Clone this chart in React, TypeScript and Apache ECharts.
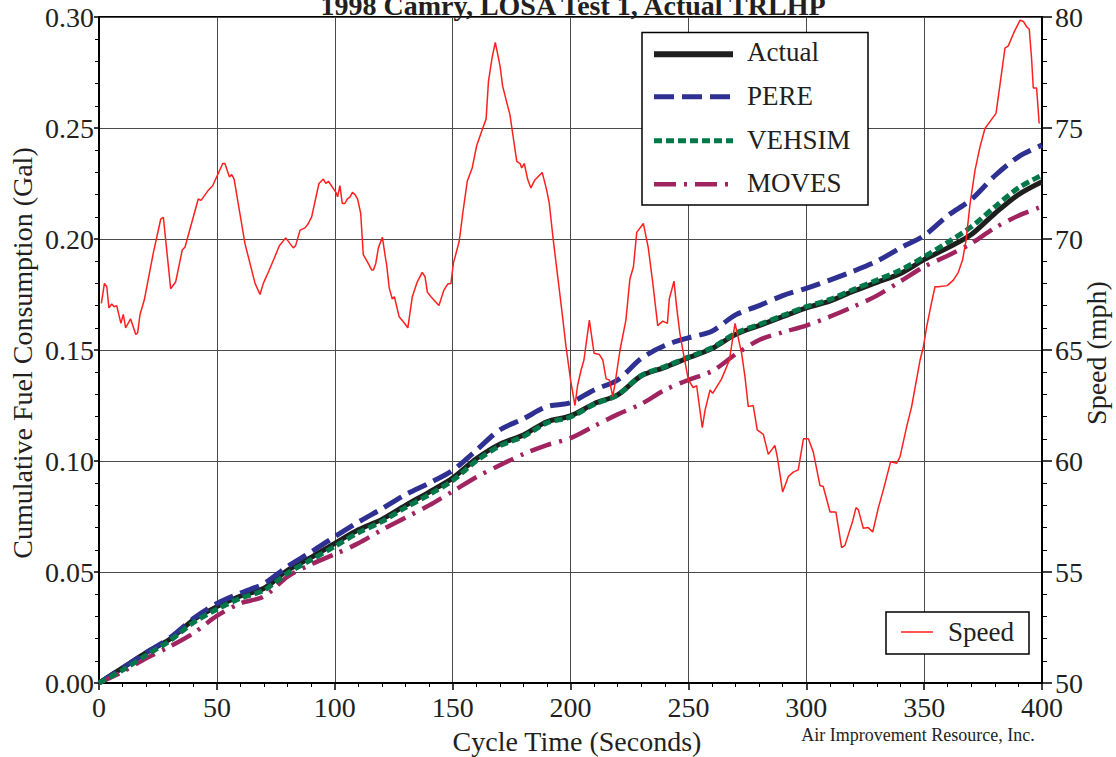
import React, { useEffect, useRef } from "react";
import * as echarts from "echarts";

// ---------- data ----------
const timeSteps = [0, 10, 20, 30, 40, 50, 60, 70, 80, 90, 100, 110, 120, 130, 140, 150, 160, 170, 180, 190, 200, 210, 220, 230, 240, 250, 260, 270, 280, 290, 300, 310, 320, 330, 340, 350, 360, 370, 380, 390, 400];

const actualFuel = [0, 0.0068, 0.0137, 0.0197, 0.0284, 0.0344, 0.0392, 0.0427, 0.0508, 0.0566, 0.0629, 0.069, 0.0737, 0.080, 0.086, 0.0923, 0.101, 0.1076, 0.1117, 0.1177, 0.1203, 0.1258, 0.1298, 0.1384, 0.1422, 0.1465, 0.1507, 0.157, 0.161, 0.165, 0.169, 0.172, 0.1765, 0.1805, 0.1845, 0.1907, 0.196, 0.202, 0.2115, 0.22, 0.2258];

const pereFuel = [0, 0.0068, 0.0137, 0.0203, 0.029, 0.0358, 0.0405, 0.0448, 0.0525, 0.059, 0.0659, 0.0725, 0.0785, 0.0848, 0.090, 0.0958, 0.1048, 0.114, 0.119, 0.1245, 0.1263, 0.132, 0.1365, 0.1462, 0.152, 0.1555, 0.1585, 0.1658, 0.170, 0.1745, 0.1778, 0.1815, 0.1855, 0.190, 0.196, 0.2015, 0.2105, 0.2178, 0.2285, 0.237, 0.2423];

const vehsimFuel = [0, 0.0058, 0.0125, 0.019, 0.0272, 0.0332, 0.0382, 0.0418, 0.0495, 0.0555, 0.0615, 0.0677, 0.0727, 0.079, 0.0848, 0.0912, 0.1, 0.1068, 0.111, 0.1172, 0.1198, 0.1255, 0.1297, 0.1385, 0.1425, 0.1468, 0.151, 0.1575, 0.1615, 0.1655, 0.1695, 0.1728, 0.1772, 0.1815, 0.186, 0.192, 0.1985, 0.2055, 0.2145, 0.223, 0.2288];

const movesFuel = [0, 0.005, 0.0111, 0.0164, 0.0224, 0.0302, 0.0359, 0.039, 0.0479, 0.0535, 0.058, 0.0629, 0.069, 0.0745, 0.080, 0.0863, 0.0927, 0.0981, 0.1031, 0.1072, 0.1103, 0.1157, 0.121, 0.1257, 0.132, 0.1365, 0.1405, 0.148, 0.1545, 0.158, 0.161, 0.165, 0.1695, 0.1745, 0.181, 0.1875, 0.1925, 0.198, 0.205, 0.2105, 0.2146];

const speedTime = [1, 2.3, 3.3, 4.2, 5.4, 6.4, 7.5, 9.3, 10.3, 11.3, 13.4, 15.6, 16.4, 17.4, 19.2, 23, 26.2, 27.3, 30.4, 32.5, 35.3, 36.5, 42.1, 43.3, 46.4, 48.2, 52.5, 53.4, 55.3, 56.3, 57.3, 61.9, 66.2, 68.3, 69.7, 71.8, 74.2, 76.5, 79.2, 82.4, 83.4, 85.3, 87.4, 88.8, 90.2, 93.3, 95.2, 96.2, 97.3, 100.5, 101.2, 102.2, 103.2, 104.3, 105.3, 106.5, 107.5, 108.6, 109.7, 111, 112.1, 114.2, 115.7, 116.4, 117.4, 118.5, 120.2, 121.3, 122, 123.1, 124.4, 125.3, 127.3, 129.1, 131, 132.9, 135, 137.1, 138.3, 139.3, 141.1, 142.5, 144.2, 146.3, 147.9, 149.3, 150.3, 152.8, 154.3, 156.2, 158.3, 160.2, 162.8, 164.2, 165.2, 166.8, 168.1, 170.1, 171.2, 172.6, 174.3, 177.2, 178.6, 179.3, 180.4, 181.8, 183.2, 184.9, 188, 189.9, 191, 192.7, 196.3, 198.1, 200.1, 201.9, 203, 204.5, 205.7, 208, 210, 212.2, 213.7, 215.1, 216.5, 217.9, 218.9, 221, 223.5, 225.2, 226.7, 228.1, 230.9, 233, 235.1, 237, 239.1, 241.1, 241.9, 243.9, 245, 246.4, 247.9, 250, 252.1, 253.5, 255.9, 257.1, 259.2, 260.3, 264.1, 267.4, 269.8, 272.6, 274, 275.4, 277.5, 279.2, 281.8, 283.9, 285.3, 286.7, 287.7, 290, 292.4, 294.5, 296.6, 298.8, 300.9, 303, 305.8, 307.2, 310.1, 312.6, 315, 316.4, 319.7, 321.1, 322.1, 324.2, 326.3, 328.2, 330.6, 332.7, 335.8, 338.4, 339.8, 342.6, 344.7, 348.3, 349.7, 351.1, 352.8, 354.6, 356, 359.8, 362.4, 364.5, 366.3, 367.8, 369.5, 371.6, 373.7, 375.8, 378.7, 380.5, 382.5, 384.3, 385.7, 387.9, 389, 390.7, 392.1, 393.5, 394.6, 395.6, 396.3, 397.7, 398.8];

const speedMph = [67.1, 68.0, 67.85, 66.9, 67.07, 66.95, 67.0, 66.2, 66.6, 66.0, 66.4, 65.7, 65.78, 66.6, 67.25, 69.35, 70.9, 70.98, 67.76, 68.06, 69.5, 69.64, 71.8, 71.74, 72.2, 72.4, 73.4, 73.4, 72.8, 72.9, 72.7, 69.8, 68.0, 67.5, 68.0, 68.5, 69.1, 69.7, 70.05, 69.6, 69.7, 70.4, 70.5, 70.7, 71.0, 72.5, 72.7, 72.5, 72.6, 72.1, 71.9, 72.4, 71.6, 71.6, 71.8, 71.9, 72.1, 72.0, 71.8, 71.16, 69.3, 68.9, 68.6, 68.6, 68.9, 69.6, 70.08, 69.3, 68.85, 67.8, 67.3, 67.4, 66.5, 66.27, 66.0, 67.4, 68.07, 68.5, 68.3, 67.6, 67.36, 67.2, 67.0, 67.7, 67.97, 68.0, 68.9, 69.9, 71.16, 72.6, 73.2, 74.2, 75.0, 75.4, 77.1, 78.2, 78.86, 77.8, 76.9, 76.3, 75.6, 73.5, 73.4, 73.2, 73.4, 72.7, 72.3, 72.66, 73.0, 72.2, 71.6, 69.95, 66.8, 65.15, 63.6, 62.5, 63.4, 64.1, 64.55, 66.35, 64.85, 64.8, 64.55, 63.7, 63.65, 62.9, 63.5, 65.0, 66.35, 68.2, 68.75, 70.3, 70.7, 69.6, 67.85, 66.1, 66.3, 66.2, 67.3, 68.1, 66.95, 65.75, 64.85, 63.65, 63.3, 63.4, 61.5, 62.3, 63.2, 63.05, 63.7, 64.55, 66.2, 64.85, 63.8, 62.45, 62.5, 61.4, 61.2, 60.3, 60.5, 60.7, 60.2, 58.6, 59.3, 59.5, 59.6, 61.0, 61.0, 60.4, 58.9, 58.85, 57.7, 57.7, 56.1, 56.2, 57.3, 57.9, 57.8, 56.97, 57.0, 56.8, 57.9, 58.7, 59.97, 59.9, 60.2, 61.55, 62.45, 64.55, 65.15, 66.05, 66.95, 67.85, 67.85, 67.9, 68.15, 68.5, 69.05, 69.95, 71.6, 73.1, 74.15, 74.98, 75.4, 75.66, 77.2, 78.6, 78.7, 79.26, 79.5, 79.86, 79.8, 79.56, 79.45, 78.1, 76.8, 76.8, 75.2];

const seriesNames = ["Actual", "PERE", "VEHSIM", "MOVES"];
const speedName = "Speed";
const titleText = "1998 Camry, LOSA Test 1, Actual TRLHP";
const xTitle = "Cycle Time (Seconds)";
const yLeftTitle = "Cumulative Fuel Consumption (Gal)";
const yRightTitle = "Speed (mph)";
const creditText = "Air Improvement Resource, Inc.";

// ---------- styles ----------
const FONT = '"Liberation Serif", "Times New Roman", serif';
const TXT = "#231f20";
const C_ACTUAL = "#1f1f1f";
const C_PERE = "#2e3192";
const C_VEHSIM = "#00784a";
const C_MOVES = "#a0245f";
const C_SPEED = "#ff1f1f";

const DASH_PERE = [20, 8];
const DASH_VEHSIM = [8, 4];
const DASH_MOVES = [22, 8, 3, 8];

const pairs = (xs: number[], ys: number[]) => xs.map((x, i) => [x, ys[i]]);

export default function App() {
  const ref = useRef<HTMLDivElement>(null);

  useEffect(() => {
    if (!ref.current) return;
    const chart = echarts.init(ref.current, undefined, { renderer: "svg" });

    const axisCommon = {
      axisLine: { show: true, onZero: false, lineStyle: { color: "#000", width: 2 } },
      axisLabel: { fontSize: 28, fontFamily: FONT, color: TXT },
    };

    const legendItems = [
      { name: seriesNames[0], color: C_ACTUAL, dash: null as any, width: 6, y: 54.3, ty: 52 },
      { name: seriesNames[1], color: C_PERE, dash: DASH_PERE, width: 5, y: 96.7, ty: 96 },
      { name: seriesNames[2], color: C_VEHSIM, dash: DASH_VEHSIM, width: 5, y: 140.7, ty: 139.5 },
      { name: seriesNames[3], color: C_MOVES, dash: DASH_MOVES, width: 4.5, y: 184.3, ty: 183 },
    ];

    const graphics: any[] = [
      {
        type: "text",
        x: 573,
        y: 19,
        z: 100,
        style: { text: titleText, font: `bold 28px ${FONT}`, fill: TXT, align: "center", verticalAlign: "bottom" },
      },
      {
        type: "text",
        x: 577,
        y: 741,
        z: 100,
        style: { text: xTitle, font: `28px ${FONT}`, fill: TXT, align: "center", verticalAlign: "middle" },
      },
      {
        type: "text",
        x: 22,
        y: 353,
        rotation: Math.PI / 2,
        z: 100,
        style: { text: yLeftTitle, font: `28px ${FONT}`, fill: TXT, align: "center", verticalAlign: "middle" },
      },
      {
        type: "text",
        x: 1096,
        y: 353,
        rotation: Math.PI / 2,
        z: 100,
        style: { text: yRightTitle, font: `28px ${FONT}`, fill: TXT, align: "center", verticalAlign: "middle" },
      },
      {
        type: "text",
        x: 918,
        y: 735,
        z: 100,
        style: { text: creditText, font: `18px ${FONT}`, fill: TXT, align: "center", verticalAlign: "middle" },
      },
      // main legend box
      {
        type: "rect",
        z: 100,
        shape: { x: 642, y: 32.5, width: 226, height: 172.5 },
        style: { fill: "#fff", stroke: "#000", lineWidth: 1.5 },
      },
      ...legendItems.flatMap((it) => [
        {
          type: "line",
          z: 101,
          shape: { x1: 654, y1: it.y, x2: 733, y2: it.y },
          style: { stroke: it.color, lineWidth: it.width, lineDash: it.dash || undefined },
        },
        {
          type: "text",
          x: 747,
          y: it.ty,
          z: 101,
          style: { text: it.name, font: `27px ${FONT}`, fill: TXT, align: "left", verticalAlign: "middle" },
        },
      ]),
      // speed legend box
      {
        type: "rect",
        z: 100,
        shape: { x: 886, y: 612, width: 143, height: 42 },
        style: { fill: "#fff", stroke: "#000", lineWidth: 1.5 },
      },
      {
        type: "line",
        z: 101,
        shape: { x1: 901, y1: 632, x2: 933, y2: 632 },
        style: { stroke: C_SPEED, lineWidth: 1.5 },
      },
      {
        type: "text",
        x: 948,
        y: 632,
        z: 101,
        style: { text: speedName, font: `27px ${FONT}`, fill: TXT, align: "left", verticalAlign: "middle" },
      },
    ];

    chart.setOption({
      animation: false,
      backgroundColor: "#fff",
      grid: {
        left: 99,
        right: 74,
        top: 17,
        bottom: 74,
        show: true,
        borderColor: "#000",
        borderWidth: 2,
        backgroundColor: "transparent",
      },
      xAxis: {
        type: "value",
        min: 0,
        max: 400,
        interval: 50,
        ...axisCommon,
        axisLabel: { ...axisCommon.axisLabel, margin: 10, showMinLabel: true, showMaxLabel: true },
        axisTick: { show: true, length: 7, lineStyle: { color: "#000", width: 1.5 } },
        minorTick: { show: true, splitNumber: 5, length: 4, lineStyle: { color: "#000", width: 1 } },
        splitLine: { show: true, lineStyle: { color: "#4a4a4a", width: 1 } },
      },
      yAxis: [
        {
          type: "value",
          position: "left",
          min: 0,
          max: 0.3,
          interval: 0.05,
          ...axisCommon,
          axisLabel: {
            ...axisCommon.axisLabel,
            margin: 5,
            formatter: (v: number) => v.toFixed(2),
            showMinLabel: true,
            showMaxLabel: true,
          },
          axisTick: { show: true, length: 5, lineStyle: { color: "#000", width: 1.5 } },
          minorTick: { show: true, splitNumber: 5, length: 4, lineStyle: { color: "#000", width: 1 } },
          splitLine: { show: true, lineStyle: { color: "#4a4a4a", width: 1 } },
        },
        {
          type: "value",
          position: "right",
          min: 50,
          max: 80,
          interval: 5,
          ...axisCommon,
          axisLabel: { ...axisCommon.axisLabel, margin: 13, showMinLabel: true, showMaxLabel: true },
          axisTick: { show: true, length: 10, lineStyle: { color: "#000", width: 1.5 } },
          minorTick: { show: true, splitNumber: 5, length: 5, lineStyle: { color: "#000", width: 1 } },
          splitLine: { show: false },
        },
      ],
      series: [
        {
          name: seriesNames[0],
          type: "line",
          yAxisIndex: 0,
          data: pairs(timeSteps, actualFuel),
          showSymbol: false,
          smooth: 0.3,
          z: 3,
          lineStyle: { color: C_ACTUAL, width: 5 },
        },
        {
          name: seriesNames[1],
          type: "line",
          yAxisIndex: 0,
          data: pairs(timeSteps, pereFuel),
          showSymbol: false,
          smooth: 0.3,
          z: 3,
          lineStyle: { color: C_PERE, width: 5, type: DASH_PERE },
        },
        {
          name: seriesNames[2],
          type: "line",
          yAxisIndex: 0,
          data: pairs(timeSteps, vehsimFuel),
          showSymbol: false,
          smooth: 0.3,
          z: 4,
          lineStyle: { color: C_VEHSIM, width: 5, type: DASH_VEHSIM },
        },
        {
          name: seriesNames[3],
          type: "line",
          yAxisIndex: 0,
          data: pairs(timeSteps, movesFuel),
          showSymbol: false,
          smooth: 0.3,
          z: 3,
          lineStyle: { color: C_MOVES, width: 4.5, type: DASH_MOVES },
        },
        {
          name: speedName,
          type: "line",
          yAxisIndex: 1,
          data: pairs(speedTime, speedMph),
          showSymbol: false,
          z: 5,
          lineStyle: { color: C_SPEED, width: 1.5 },
        },
      ],
      graphic: graphics,
    });

    return () => chart.dispose();
  }, []);

  return (
    <div
      ref={ref}
      style={{ position: "absolute", left: 0, top: 0, width: 1116, height: 757, background: "#fff" }}
    />
  );
}
